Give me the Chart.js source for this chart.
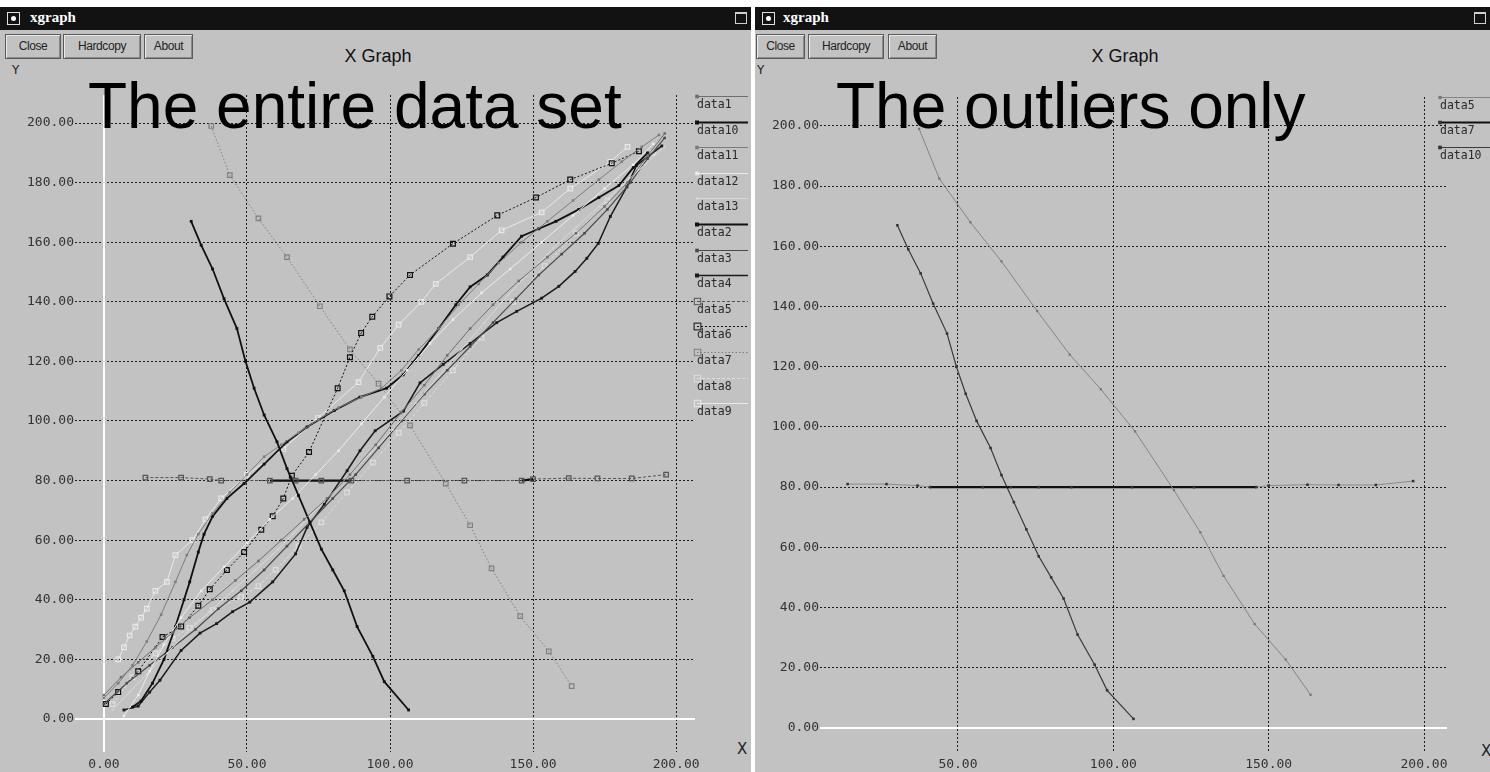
<!DOCTYPE html>
<html>
<head>
<meta charset="utf-8">
<script src="https://cdn.jsdelivr.net/npm/chart.js@4.4.1/dist/chart.umd.min.js"></script>
<style>
  body { margin: 0; width: 1490px; height: 772px; background: #fff; overflow: hidden; position: relative; font-family: 'Liberation Sans', Arial, sans-serif; }
  .win { position: absolute; top: 7px; height: 765px; background: #c2c2c2; }
  .bar { position: absolute; left: 0; right: 0; top: 0; height: 23px; background: #121212; color: #fff; }
  .ico { position: absolute; left: 7px; top: 5px; width: 11px; height: 11px; border: 1px solid #e0e0e0; }
  .ico::after { content: ''; position: absolute; left: 3px; top: 3px; width: 5px; height: 5px; background: #fff; border-radius: 50%; }
  .name { position: absolute; top: 2px; font: bold 15px 'Liberation Serif', serif; }
  .max { position: absolute; right: 4px; top: 5px; width: 10px; height: 9px; border: 1px solid #d0d0d0; border-top-width: 2px; }
  .btn { position: absolute; top: 27px; height: 23px; border: 1px solid #5a5a5a; box-shadow: inset 1px 1px #eaeaea, inset -1px -1px #8a8a8a; font-size: 12px; line-height: 23px; text-align: center; color: #222; letter-spacing: -0.4px; }
  .xg { position: absolute; top: 39px; width: 160px; text-align: center; font-size: 18px; color: #111; }
  .ax { position: absolute; font-family: 'DejaVu Sans', sans-serif; color: #222; }
  .big { position: absolute; top: 74px; font-size: 64px; line-height: 64px; color: #000; white-space: nowrap; z-index: 3; }
  canvas { position: absolute; top: 31px; z-index: 2; }
</style>
</head>
<body>
<div class="win" style="left:0;width:751px">
  <div class="bar"><div class="ico"></div><div class="name" style="left:30px">xgraph</div><div class="max"></div></div>
  <div class="btn" style="left:5px;width:54px">Close</div>
  <div class="btn" style="left:63px;width:76px">Hardcopy</div>
  <div class="btn" style="left:144px;width:47px">About</div>
  <div class="xg" style="left:298px">X Graph</div>
  <div class="ax" style="left:12px;top:56px;font-size:12px">Y</div>
  <div class="ax" style="left:737px;top:733px;font-size:15px">X</div>
</div>
<div class="win" style="left:755px;width:735px">
  <div class="bar"><div class="ico"></div><div class="name" style="left:28px">xgraph</div><div class="max"></div></div>
  <div class="btn" style="left:1px;width:47px">Close</div>
  <div class="btn" style="left:53px;width:74px">Hardcopy</div>
  <div class="btn" style="left:133px;width:47px">About</div>
  <div class="xg" style="left:290px">X Graph</div>
  <div class="ax" style="left:2px;top:56px;font-size:12px">Y</div>
  <div class="ax" style="left:726px;top:735px;font-size:15px">X</div>
</div>
<div class="big" style="left:88px">The entire data set</div>
<div class="big" style="left:836px">The outliers only</div>
<canvas id="allChart" width="752" height="741" style="left:0"></canvas>
<canvas id="outChart" width="735" height="741" style="left:755px"></canvas>
<script>
const xTicks = [0, 50, 100, 150, 200]
const yTicks = [0, 20, 40, 60, 80, 100, 120, 140, 160, 180, 200]

// the three outlying series
const steepA = [[30.5, 167], [34, 159], [38, 151], [42, 141], [46.5, 131], [49.5, 120], [52.5, 111], [56, 102], [60.5, 93], [64, 84], [68, 75], [72, 66], [76, 57], [80, 50], [84, 43], [88.5, 31], [94, 21], [98, 12.5], [106.5, 3]]
const steepB = [[37.5, 199], [44, 182.5], [54, 168], [64, 155], [75.5, 138.5], [86, 124], [96, 112.5], [107, 98.5], [119.5, 79], [128, 65], [135.5, 50.5], [145.5, 34.5], [155.5, 22.7], [163.5, 11]]
const flat80 = [[14.5, 81], [27, 81], [37, 80.5], [41, 80], [58, 80], [67, 80], [76, 80], [86.5, 80], [106, 80], [126, 80], [146, 80], [150, 80.5], [162.5, 80.8], [172.5, 80.7], [184.5, 80.7], [196.5, 82]]

// the rising bundle
const data1 = [[0, 8], [6, 14], [12, 19], [18, 24], [24, 29], [30, 34], [38, 40], [46, 46.5], [54, 53], [62, 60], [70, 67], [78, 74], [86, 82], [95, 92], [104, 103], [112, 112], [120, 122], [128, 131], [136, 139], [145, 147], [155, 155], [165, 163], [175, 172], [183, 180], [190, 189], [196, 196.5]]
const data11 = [[0, 7], [5, 12], [10, 18], [15, 26], [20, 35], [25, 46], [29, 55], [33, 62], [38, 69], [44, 76], [50, 82], [56, 88], [62, 92], [68, 96], [75, 100.5], [82, 104.5], [90, 108], [97, 111], [104, 117], [110, 124], [117, 131], [124, 139], [131, 146], [138, 153], [146, 160], [155, 167], [164, 174], [173, 181], [181, 187], [188, 192], [194, 196]]
const data12 = [[7, 1], [12, 8], [16, 16], [21, 25], [27, 34], [34, 43], [42, 51], [50, 59], [58, 67], [66, 74], [74, 82], [82, 90], [90, 99], [98, 108], [106, 117], [114, 126], [122, 134], [132, 143], [142, 151], [153, 160], [164, 169], [175, 178], [185, 186], [192, 193]]
const data13 = [[3, 3], [9, 9], [15, 15], [22, 22], [29, 29], [37, 36], [45, 43], [53, 50], [61, 57], [69, 65], [77, 73], [85, 81], [93, 89], [101, 97], [109, 106], [117, 115], [125, 124], [133, 133], [141, 142], [149, 150], [157, 158], [165, 165], [173, 172], [181, 179], [189, 186], [196, 192]]
const data2 = [[10, 4], [13, 6], [17, 12], [21, 20], [25, 31], [28, 40], [30, 46], [33, 56], [35, 62], [38, 68], [43, 74], [49, 79], [56, 85.5], [64, 93], [71, 98], [80.5, 103.5], [89.5, 108], [98.8, 111], [104.6, 115.5], [110, 122], [117, 131], [123, 139], [128, 145], [134, 149], [139.5, 155], [146, 162], [152, 164.5], [158, 167], [166, 171], [173, 175], [180, 179], [185, 185], [190, 190]]
const data3 = [[0, 5], [8, 12], [16, 18], [24, 24], [32, 30], [40, 37], [48, 43], [56, 50], [64, 58], [72, 66], [80, 74], [88, 82], [96, 91], [104, 100], [112, 109], [120, 117], [128, 125], [136, 133], [144, 141], [152, 149], [160, 156], [168, 163], [176, 171], [184, 180], [190, 188], [196, 195]]
const data4 = [[7, 3], [12, 4.3], [16, 9], [19.6, 13], [27, 23], [33.6, 28.8], [39.4, 32], [45, 36], [51, 39.2], [59, 46], [67, 55.4], [71, 64.3], [77, 72], [85, 83.3], [89.5, 90], [94.8, 96.7], [104.7, 103.3], [110.5, 112.8], [118.6, 119], [128, 126], [137.3, 133], [144.3, 136.8], [153, 141.2], [159, 145.2], [164.7, 150.2], [168.8, 154.6], [172.8, 159.6], [177, 168.6], [182.8, 178.6], [186.2, 185.8], [195, 192.3]]
const data6 = [[0.7, 5], [5, 9], [12, 16], [20.5, 27.5], [27, 31], [33, 38], [37, 43.5], [43, 50], [49, 56], [55, 63.5], [59, 68], [62.7, 74], [65.7, 81.6], [71.7, 89.6], [81.7, 111], [86, 121.4], [89.9, 129.5], [93.8, 135], [99.8, 141.8], [107, 149], [122, 159.5], [137.5, 169], [151, 175], [163, 181], [177.5, 186.5], [187, 190.5]]
const data8 = [[3, 5], [10, 14], [18, 22], [24, 27], [30, 30.6], [38, 36.5], [48, 41], [54, 44.6], [60, 50], [68, 58], [76, 66], [85, 76], [94, 86], [103, 96], [112, 106], [122, 117], [132, 128], [143, 140], [154, 152], [165, 163], [176, 174], [186, 184], [192, 190]]
const data9 = [[5, 20], [7, 24], [9, 28], [11, 31], [13, 34], [15, 37], [18, 43], [22, 46], [25, 55], [31, 60], [35.5, 67], [41, 74], [50, 82], [62.7, 90.6], [74.8, 101], [89, 113], [96.6, 124.5], [103, 132.3], [111, 140], [116, 146], [128, 155], [139, 164], [153, 170], [163, 178], [177, 187], [183, 192]]

const mono = "'DejaVu Sans Mono', monospace"
const pts = a => a.map(([x, y]) => ({ x, y }))

/* marqueurs facon xgraph : petit point plein ou carre vide */
const dot = (c, r = 1.8) => ({ pointStyle: 'rect', pointRadius: r, pointBackgroundColor: c, pointBorderColor: c, pointBorderWidth: 0 })
const box = (c, r = 3.2) => ({ pointStyle: 'rect', pointRadius: r, pointBackgroundColor: 'rgba(0,0,0,0)', pointBorderColor: c, pointBorderWidth: 1.2 })

const serie = (label, data, color, width, marker, dash) => Object.assign({
  label, data: pts(data), showLine: true, borderColor: color, borderWidth: width,
  borderDash: dash || [], tension: 0, fill: false
}, marker)

/* segments en trait gras noir entre deux abscisses */
const boldBetween = (ranges, w) => {
  const on = c => ranges.some(([a, b]) => c.p0.parsed.x >= a && c.p1.parsed.x <= b)
  return {
    borderColor: c => on(c) ? '#111' : undefined,
    borderWidth: c => on(c) ? w : undefined,
    borderDash: c => on(c) ? [] : undefined
  }
}
const thinOutside = (ranges) => {
  const on = c => ranges.some(([a, b]) => c.p0.parsed.x >= a && c.p1.parsed.x <= b)
  return {
    borderColor: c => on(c) ? undefined : '#8a8a8a',
    borderWidth: c => on(c) ? undefined : 1
  }
}

const allSets = [
  serie('data1', data1, '#6e6e6e', 1, dot('#6e6e6e')),
  serie('data10', steepA, '#111', 1.8, dot('#111', 2)),
  serie('data11', data11, '#7c7c7c', 1, dot('#7c7c7c')),
  serie('data12', data12, '#ececec', 1, dot('#ececec')),
  serie('data13', data13, '#d8d8d8', 1, dot('#d8d8d8', 1.2)),
  serie('data2', data2, '#111', 1.8, dot('#111', 2)),
  serie('data3', data3, '#4a4a4a', 1.2, dot('#4a4a4a')),
  serie('data4', data4, '#1a1a1a', 1.5, dot('#1a1a1a', 2)),
  Object.assign(serie('data5', flat80, '#555', 1, box('#555'), [3, 2]), { segment: boldBetween([[58, 86.5], [146, 150]], 2.2) }),
  serie('data6', data6, '#111', 1, box('#111', 3.4), [2, 2]),
  serie('data7', steepB, '#808080', 1, box('#808080'), [1.5, 2]),
  serie('data8', data8, '#dedede', 1, box('#dedede'), [3, 2]),
  serie('data9', data9, '#e8e8e8', 1, box('#e8e8e8'))
]

const outSets = [
  serie('data5', steepB, '#858585', 1, dot('#777', 1.6)),
  Object.assign(serie('data7', flat80, '#111', 2.2, dot('#333', 1.8)), { segment: thinOutside([[40, 146]]) }),
  serie('data10', steepA, '#3a3a3a', 1.2, dot('#333', 1.8))
]

/* lignes blanches x = 0 et y = 0 */
const zeroLines = {
  id: 'zeroLines',
  beforeDatasetsDraw(chart) {
    const { ctx, chartArea: a, scales: { x, y } } = chart
    ctx.save()
    ctx.strokeStyle = '#fff'
    ctx.lineWidth = 2
    ctx.beginPath()
    if (x.min <= 0 && x.max >= 0) {
      const px = Math.round(x.getPixelForValue(0))
      ctx.moveTo(px, a.top); ctx.lineTo(px, a.bottom)
    }
    const py = Math.round(y.getPixelForValue(0))
    ctx.moveTo(a.left, py); ctx.lineTo(a.right, py)
    ctx.stroke()
    ctx.restore()
  }
}

/* legende xgraph : trait au-dessus du nom, marqueur a gauche */
const xgLegend = {
  id: 'xgLegend',
  afterDraw(chart, args, o) {
    const ctx = chart.ctx
    chart.data.datasets.forEach((ds, i) => {
      const y = Math.round(o.top + i * o.step) + 0.5
      ctx.save()
      ctx.strokeStyle = ds.borderColor
      ctx.lineWidth = ds.borderWidth
      ctx.setLineDash(ds.borderDash)
      ctx.beginPath(); ctx.moveTo(o.left, y); ctx.lineTo(o.left + o.width, y); ctx.stroke()
      ctx.setLineDash([])
      const r = ds.pointRadius
      if (ds.pointBackgroundColor === 'rgba(0,0,0,0)') {
        ctx.strokeStyle = ds.pointBorderColor; ctx.lineWidth = 1
        ctx.strokeRect(o.left - r + 0.5, y - r, 2 * r, 2 * r)
      } else {
        ctx.fillStyle = ds.pointBackgroundColor
        ctx.fillRect(o.left - r, y - r, 2 * r, 2 * r)
      }
      ctx.fillStyle = '#2a2a2a'
      ctx.font = '11.5px ' + mono
      ctx.textBaseline = 'middle'
      ctx.fillText(ds.label, o.left, y + 9)
      ctx.restore()
    })
  }
}

const axis = (ticks, min, max, fit) => ({
  type: 'linear', min, max,
  afterBuildTicks: s => { s.ticks = ticks.filter(v => v >= min && v <= max).map(v => ({ value: v })) },
  afterFit: fit,
  grid: { color: c => (c.tick && c.tick.value === 0) ? 'rgba(0,0,0,0)' : '#1c1c1c', lineWidth: 1, drawTicks: false },
  border: { display: false, dash: [2, 2] },
  ticks: { color: '#333', font: { family: mono, size: 13 }, padding: 1, autoSkip: false, maxRotation: 0, callback: v => v.toFixed(2) }
})

const makeChart = (el, sets, f) => new Chart(el, {
  type: 'scatter',
  data: { datasets: sets },
  options: {
    responsive: false, animation: false, events: [],
    layout: { padding: { top: f.padTop, right: f.padRight, left: 0, bottom: 0 } },
    scales: {
      x: axis(xTicks, f.xMin, f.xMax, s => { s.height = 20 }),
      y: axis(yTicks, f.yMin, f.yMax, s => { s.width = f.axisW })
    },
    plugins: {
      legend: { display: false }, tooltip: { enabled: false },
      xgLegend: f.legend
    }
  },
  plugins: [zeroLines, xgLegend]
})

const allChart = makeChart(document.querySelector('#allChart'), allSets, {
  xMin: -10.1, xMax: 206.6, yMin: -11.1, yMax: 209.4, axisW: 75, padTop: 64, padRight: 57,
  legend: { left: 697, top: 65, step: 25.6, width: 51 }
})
allChart.options.scales.x.ticks.padding = 5
allChart.update()

const outChart = makeChart(document.querySelector('#outChart'), outSets, {
  xMin: 5.6, xMax: 207.4, yMin: -8, yMax: 209.6, axisW: 65, padTop: 66, padRight: 43,
  legend: { left: 685, top: 66.3, step: 24.6, width: 50 }
})
outChart.options.scales.x.ticks.padding = 5
outChart.update()
</script>
</body>
</html>
